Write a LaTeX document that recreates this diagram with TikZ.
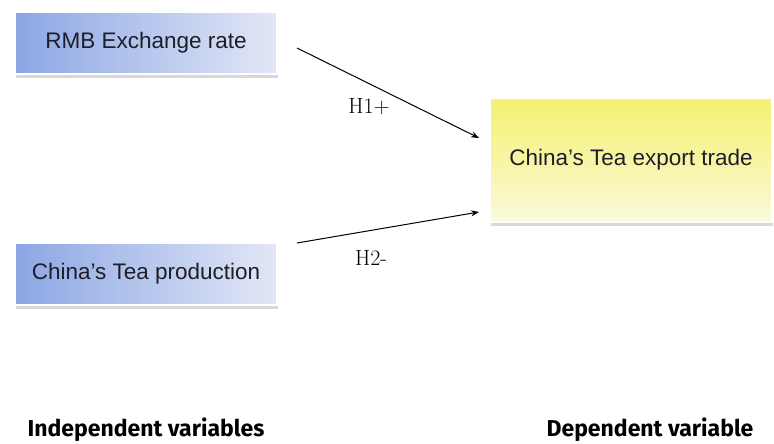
\documentclass[tikz,border=0pt]{standalone}
\usepackage{xcolor}
\usepackage{fontspec}
\setmainfont{Liberation Sans}
\newfontfamily\hypfont{Latin Modern Roman}
\newfontfamily\capfont{Fira Sans Bold}
\usetikzlibrary{arrows.meta,shadows}

\definecolor{blueL}{RGB}{140,166,228}
\definecolor{blueR}{RGB}{226,231,246}
\definecolor{yelT}{RGB}{245,241,112}
\definecolor{yelB}{RGB}{250,249,218}
\definecolor{txt}{RGB}{30,30,40}

\tikzset{
  var/.style={draw=white, line width=2pt, minimum height=62pt, text=txt,
    font=\fontsize{22.5}{27}\selectfont,
    drop shadow={shadow xshift=1pt, shadow yshift=-4pt, opacity=0.3}},
  indep/.style={var, minimum width=262pt, left color=blueL, right color=blueR},
  dep/.style={var, minimum width=282pt, minimum height=124pt,
    top color=yelT, bottom color=yelB},
  hyp/.style={font=\hypfont\fontsize{22}{26}\selectfont},
  head/.style={font=\capfont\fontsize{23}{27}\selectfont},
  link/.style={line width=1pt, -{Stealth[length=8pt,width=6pt]}}
}

\begin{document}
\begin{tikzpicture}[x=1pt, y=-1pt]
\useasboundingbox[fill=white] (0,0) rectangle (774,444);

% variables
\node[indep] (rmb) at (146,43) {RMB Exchange rate};
\node[indep] (prod) at (146,274) {China’s Tea production};
\node[dep] (trade) at (631,160) {China’s Tea export trade};

% hypotheses
\draw[link] ([xshift=19pt,yshift=-5pt]rmb.east) -- ([xshift=-10pt,yshift=22pt]trade.west);
\draw[link] ([xshift=19pt,yshift=31pt]prod.east) -- ([xshift=-10pt,yshift=-52pt]trade.west);
\node[hyp] (h1) at (369,107) {H1+};
\node[hyp] (h2) at (371,258) {H2-};

% captions
\node[head] (indvar) at (146,430) {Independent variables};
\node[head] (depvar) at (650,430) {Dependent variable};
\end{tikzpicture}
\end{document}
